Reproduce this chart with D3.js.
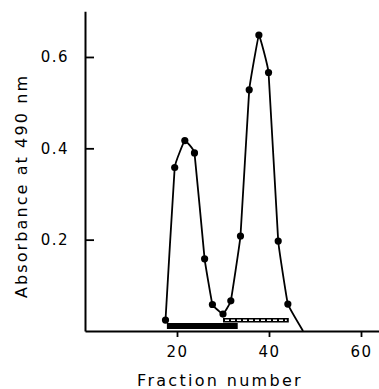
<!DOCTYPE html>
<html>
<head>
<meta charset="utf-8">
<script src="https://cdn.jsdelivr.net/npm/d3@7"></script>
<style>
  body { margin: 0; background: #fff; }
  text { font-family: "DejaVu Sans", sans-serif; fill: #000; }
</style>
</head>
<body>
<div class="chart"></div>
<script>
var svgWidth = 379;
var svgHeight = 389;

// data
var fractions = [17.5, 19.5, 21.7, 23.8, 26, 27.7, 30, 31.7, 33.8, 35.7, 37.8, 39.9, 42, 44.1];
var absorbance = [0.024, 0.358, 0.417, 0.390, 0.158, 0.058, 0.037, 0.066, 0.208, 0.528, 0.648, 0.566, 0.197, 0.059];
// where the trace runs back down to the baseline (no marker)
var tailEnd = [47.4, 0];
var solidBar = [17.8, 33.2];
var hatchedBar = [30, 44.3];
var xTicks = [20, 40, 60];
var yTicks = [0.2, 0.4, 0.6];

var svg = d3.select(".chart")
  .append("svg")
  .attr("width", svgWidth)
  .attr("height", svgHeight);

var x = d3.scaleLinear().domain([0, 64]).range([85, 379.4]);
var y = d3.scaleLinear().domain([0, 0.7]).range([331, 11.3]);

// axes
var bottomAxis = d3.axisBottom(x).tickValues(xTicks).tickSize(6).tickPadding(9).tickSizeOuter(0);
var leftAxis = d3.axisRight(y).tickValues(yTicks).tickSize(9).tickFormat(d3.format(".1f")).tickSizeOuter(0);

var xg = svg.append("g")
  .attr("transform", `translate(0, ${y(0)})`)
  .call(bottomAxis);

var yg = svg.append("g")
  .attr("transform", `translate(${x(0)}, 0)`)
  .call(leftAxis);

[xg, yg].forEach(g => {
  g.select(".domain").attr("stroke", "#000").attr("stroke-width", 2);
  g.selectAll(".tick line").attr("stroke", "#000").attr("stroke-width", 1.8);
  g.selectAll(".tick text")
    .attr("font-size", "15px")
    .attr("letter-spacing", "1.5px")
    .attr("fill", "#000");
});

// y labels sit on the left of the axis while ticks point inward
yg.selectAll(".tick text")
  .attr("x", -16)
  .attr("text-anchor", "end");

// elution bars
svg.append("rect")
  .attr("x", x(solidBar[0]))
  .attr("y", y(0) - 8)
  .attr("width", x(solidBar[1]) - x(solidBar[0]))
  .attr("height", 6)
  .attr("fill", "#000");

svg.append("rect")
  .attr("x", x(hatchedBar[0]))
  .attr("y", y(0) - 13)
  .attr("width", x(hatchedBar[1]) - x(hatchedBar[0]))
  .attr("height", 4.5)
  .attr("fill", "#000");

svg.append("line")
  .attr("x1", x(hatchedBar[0]) + 2)
  .attr("x2", x(hatchedBar[1]) - 2)
  .attr("y1", y(0) - 10.75)
  .attr("y2", y(0) - 10.75)
  .attr("stroke", "#fff")
  .attr("stroke-width", 1.6)
  .attr("stroke-dasharray", "4,2");

// trace
var points = fractions.map((f, i) => [f, absorbance[i]]);
var trace = points.concat([tailEnd]);

var line = d3.line()
  .x(d => x(d[0]))
  .y(d => y(d[1]))
  .curve(d3.curveCardinal.tension(0.8));

svg.append("path")
  .datum(trace)
  .attr("d", line)
  .attr("fill", "none")
  .attr("stroke", "#000")
  .attr("stroke-width", 1.8);

svg.selectAll(".dot")
  .data(points)
  .enter()
  .append("circle")
  .attr("class", "dot")
  .attr("cx", d => x(d[0]))
  .attr("cy", d => y(d[1]))
  .attr("r", 3.6)
  .attr("fill", "#000");

// axis titles
svg.append("text")
  .attr("x", 220)
  .attr("y", 386)
  .attr("text-anchor", "middle")
  .attr("font-size", "16px")
  .attr("letter-spacing", "2.3px")
  .text("Fraction number");

svg.append("text")
  .attr("transform", "translate(27, 186) rotate(-90)")
  .attr("text-anchor", "middle")
  .attr("font-size", "16px")
  .attr("letter-spacing", "2.1px")
  .text("Absorbance at 490 nm");
</script>
</body>
</html>
